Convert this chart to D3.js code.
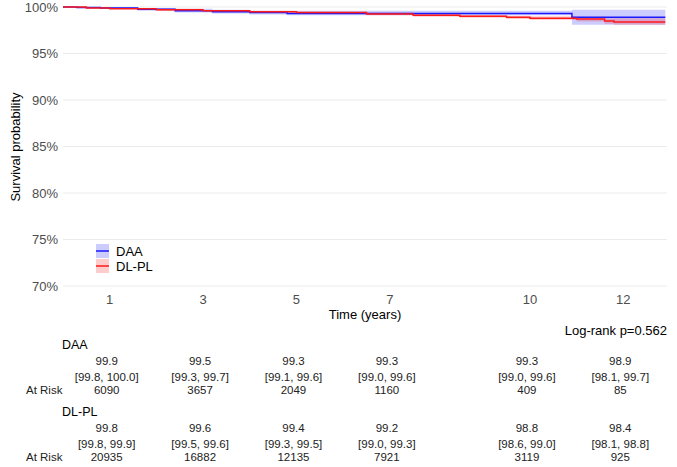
<!DOCTYPE html>
<html>
<head>
<meta charset="UTF-8">
<title></title>
<script src="https://d3js.org/d3.v7.min.js"></script>
<style>
  body { margin: 0; background: #fff; }
  text { font-family: "Liberation Sans", Arial, sans-serif; }
</style>
</head>
<body>
<div id="chart"></div>
<script>
// survival curves (time in years, survival %)
const daaTime  = [0, 0.3, 0.8, 1.6, 2.4, 3.2, 4.0, 4.8, 10.9, 12.9];
const daaSurv  = [100, 99.95, 99.9, 99.75, 99.6, 99.5, 99.4, 99.3, 98.9, 98.9];
const daaLow   = [100, 99.9, 99.8, 99.6, 99.4, 99.3, 99.2, 99.1, 98.1, 98.1];
const daaHigh  = [100, 100, 100, 99.9, 99.8, 99.7, 99.6, 99.6, 99.7, 99.7];

const dlTime   = [0, 0.5, 1.0, 2.0, 3.0, 4.0, 5.0, 6.5, 7.5, 8.5, 9.5, 10.0, 11.0, 11.6, 11.8, 12.9];
const dlSurv   = [100, 99.9, 99.8, 99.7, 99.6, 99.5, 99.4, 99.25, 99.1, 99.0, 98.9, 98.8, 98.7, 98.5, 98.4, 98.4];
const dlLow    = [100, 99.85, 99.8, 99.6, 99.5, 99.4, 99.3, 99.1, 98.95, 98.85, 98.7, 98.6, 98.45, 98.2, 98.1, 98.1];
const dlHigh   = [100, 99.95, 99.9, 99.8, 99.6, 99.6, 99.5, 99.4, 99.25, 99.15, 99.05, 99.0, 98.95, 98.8, 98.8, 98.8];

const yTicks = [70, 75, 80, 85, 90, 95, 100];
const xTicks = [1, 3, 5, 7, 10, 12];

// risk table
const groups = ["DAA", "DL-PL"];
const tabSurv = [[99.9, 99.5, 99.3, 99.3, 99.3, 98.9], [99.8, 99.6, 99.4, 99.2, 98.8, 98.4]];
const tabCI = [
  ["[99.8, 100.0]", "[99.3, 99.7]", "[99.1, 99.6]", "[99.0, 99.6]", "[99.0, 99.6]", "[98.1, 99.7]"],
  ["[99.8, 99.9]", "[99.5, 99.6]", "[99.3, 99.5]", "[99.0, 99.3]", "[98.6, 99.0]", "[98.1, 98.8]"]
];
const tabRisk = [[6090, 3657, 2049, 1160, 409, 85], [20935, 16882, 12135, 7921, 3119, 925]];

const colors = ["#1a1aff", "#ff1a1a"];
const fills = ["rgba(0,0,255,0.2)", "rgba(255,0,0,0.2)"];

const width = 677, height = 467;
const svg = d3.select("#chart").append("svg").attr("width", width).attr("height", height);

const x = d3.scaleLinear().domain([0, 13]).range([63, 670]);
const y = d3.scaleLinear().domain([70, 100]).range([286, 7]);

// gridlines
svg.append("g").selectAll("line").data(yTicks).join("line")
  .attr("x1", 63).attr("x2", 667)
  .attr("y1", d => y(d)).attr("y2", d => y(d))
  .attr("stroke", "#ebebeb").attr("stroke-width", 1);

// y axis labels
svg.append("g").selectAll("text").data(yTicks).join("text")
  .attr("x", 58).attr("y", d => y(d)).attr("dy", "0.35em")
  .attr("text-anchor", "end").attr("font-size", 13).attr("fill", "#4d4d4d")
  .text(d => d + "%");

svg.append("text").attr("transform", "translate(20,147) rotate(-90)")
  .attr("text-anchor", "middle").attr("font-size", 13).attr("fill", "#000")
  .text("Survival probability");

// x axis labels
svg.append("g").selectAll("text").data(xTicks).join("text")
  .attr("x", d => x(d)).attr("y", 299).attr("dy", "0.35em")
  .attr("text-anchor", "middle").attr("font-size", 13).attr("fill", "#4d4d4d")
  .text(d => d);

svg.append("text").attr("x", 365).attr("y", 314).attr("dy", "0.35em")
  .attr("text-anchor", "middle").attr("font-size", 13).attr("fill", "#000")
  .text("Time (years)");

svg.append("text").attr("x", 667).attr("y", 330).attr("dy", "0.35em")
  .attr("text-anchor", "end").attr("font-size", 13).attr("fill", "#000")
  .text("Log-rank p=0.562");

// curves
const series = [
  { t: daaTime, s: daaSurv, lo: daaLow, hi: daaHigh },
  { t: dlTime, s: dlSurv, lo: dlLow, hi: dlHigh }
];

const area = d3.area().curve(d3.curveStepAfter)
  .x(d => x(d.t)).y0(d => y(d.lo)).y1(d => y(d.hi));
const line = d3.line().curve(d3.curveStepAfter)
  .x(d => x(d.t)).y(d => y(d.s));

series.forEach((sr, k) => {
  const pts = sr.t.map((t, i) => ({ t: t, s: sr.s[i], lo: sr.lo[i], hi: sr.hi[i] }));
  svg.append("path").attr("d", area(pts)).attr("fill", fills[k]).attr("stroke", "none");
});
series.forEach((sr, k) => {
  const pts = sr.t.map((t, i) => ({ t: t, s: sr.s[i] }));
  svg.append("path").attr("d", line(pts)).attr("fill", "none")
    .attr("stroke", colors[k]).attr("stroke-width", 1.5);
});

// legend
groups.forEach((g, k) => {
  const ly = 244 + k * 15;
  svg.append("rect").attr("x", 96).attr("y", ly).attr("width", 13).attr("height", 14).attr("fill", fills[k]);
  svg.append("line").attr("x1", 96).attr("x2", 109).attr("y1", ly + 7).attr("y2", ly + 7)
    .attr("stroke", colors[k]).attr("stroke-width", 1.5);
  svg.append("text").attr("x", 116).attr("y", ly + 7).attr("dy", "0.35em")
    .attr("font-size", 13).attr("fill", "#000").text(g);
});

// risk table
groups.forEach((g, k) => {
  const top = 345 + k * 67;
  svg.append("text").attr("x", 62).attr("y", top).attr("dy", "0.35em")
    .attr("font-size", 12.5).attr("fill", "#000").text(g);
  svg.append("text").attr("x", 26).attr("y", top + 45).attr("dy", "0.35em")
    .attr("font-size", 11.5).attr("fill", "#222").text("At Risk");
  xTicks.forEach((t, i) => {
    const cx = x(t) - 3;
    svg.append("text").attr("x", cx).attr("y", top + 16).attr("dy", "0.35em")
      .attr("text-anchor", "middle").attr("font-size", 11.5).attr("fill", "#222")
      .text(tabSurv[k][i].toFixed(1));
    svg.append("text").attr("x", cx).attr("y", top + 32).attr("dy", "0.35em")
      .attr("text-anchor", "middle").attr("font-size", 11.5).attr("fill", "#222")
      .text(tabCI[k][i]);
    svg.append("text").attr("x", cx).attr("y", top + 45).attr("dy", "0.35em")
      .attr("text-anchor", "middle").attr("font-size", 11.5).attr("fill", "#222")
      .text(tabRisk[k][i]);
  });
});
</script>
</body>
</html>
